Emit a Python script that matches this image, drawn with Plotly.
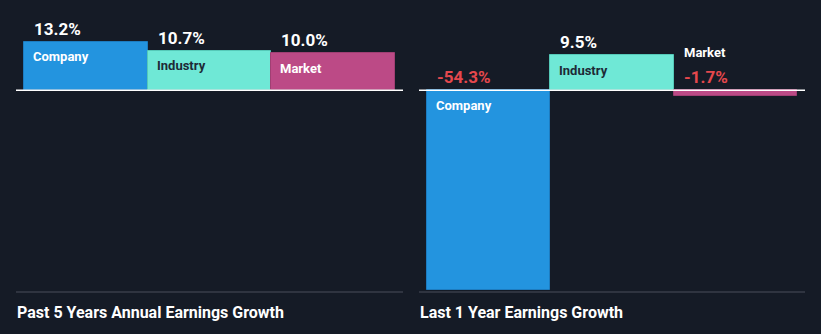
import plotly.graph_objects as go

# Earnings growth comparison data
categories = ["Company", "Industry", "Market"]
past_5y_growth = [13.2, 10.7, 10.0]
last_1y_growth = [-54.3, 9.5, -1.7]
panel_titles = ["Past 5 Years Annual Earnings Growth", "Last 1 Year Earnings Growth"]

W, H = 821, 334
BG = "#151b26"
bar_colors = ["#2394df", "#6fe8d6", "#bc4a86"]
edge_colors = ["#1d7cc0", "#55c9b8", "#a03f73"]
label_colors = ["#ffffff", "#1e2a36", "#ffffff"]
NEG_RED = "#e5484d"
FONT = "Roboto"

# panel pixel extents (left, right) of the axis line
panels = [(16, 403), (419, 805)]
pad = 0.065
y_range = [-54.8, 24.5]
plot_bottom_px = 292

fig = go.Figure()

for p, (vals, (x0, x1)) in enumerate(zip([past_5y_growth, last_1y_growth], panels)):
    xa = "x" if p == 0 else "x2"
    fig.add_trace(go.Bar(
        x=list(range(len(categories))), y=vals, width=1.0,
        marker=dict(color=bar_colors, line=dict(color=edge_colors, width=1)),
        xaxis=xa, yaxis="y", showlegend=False, hoverinfo="skip",
    ))
    for i, (cat, v) in enumerate(zip(categories, vals)):
        val_txt = f"{v:.1f}%"
        val_col = "#ffffff" if v >= 0 else NEG_RED
        top = max(v, 0)
        small_neg = v < 0 and abs(v) < 8
        # value label above the bar top (or above the zero line)
        fig.add_annotation(
            x=i - 0.5, y=top, xref=xa, yref="y", xanchor="left", yanchor="middle",
            xshift=8, yshift=13, text=f"<b>{val_txt}</b>", showarrow=False,
            font=dict(family=FONT, size=17, color=val_col),
        )
        # category label: inside the bar, or stacked above the value if the bar is tiny
        if small_neg:
            fig.add_annotation(
                x=i - 0.5, y=0, xref=xa, yref="y", xanchor="left", yanchor="middle",
                xshift=8, yshift=38, text=f"<b>{cat}</b>", showarrow=False,
                font=dict(family=FONT, size=13, color="#ffffff"),
            )
        else:
            fig.add_annotation(
                x=i - 0.5, y=top, xref=xa, yref="y", xanchor="left", yanchor="middle",
                xshift=7, yshift=-15, text=f"<b>{cat}</b>", showarrow=False,
                font=dict(family=FONT, size=13, color=label_colors[i]),
            )
    # zero line
    fig.add_shape(type="line", xref="paper", yref="y", x0=x0 / W, x1=x1 / W, y0=0, y1=0,
                  line=dict(color="#ffffff", width=1.5))
    # bottom separator
    fig.add_shape(type="line", xref="paper", yref="paper", x0=x0 / W, x1=x1 / W,
                  y0=(H - plot_bottom_px) / H, y1=(H - plot_bottom_px) / H,
                  line=dict(color="#4a4f5a", width=1))
    # panel title
    fig.add_annotation(
        x=x0 / W, y=(H - 312) / H, xref="paper", yref="paper", xanchor="left", yanchor="middle",
        xshift=-1, text=f"<b>{panel_titles[p]}</b>", showarrow=False,
        font=dict(family=FONT, size=16, color="#ffffff"),
    )

x_rng = [-0.5 - pad, 2.5 + pad]
fig.update_layout(
    width=W, height=H, margin=dict(l=0, r=0, t=0, b=0),
    paper_bgcolor=BG, plot_bgcolor=BG, bargap=0,
    xaxis=dict(domain=[panels[0][0] / W, panels[0][1] / W], range=x_rng, visible=False, fixedrange=True),
    xaxis2=dict(domain=[panels[1][0] / W, panels[1][1] / W], range=x_rng, visible=False, fixedrange=True),
    yaxis=dict(domain=[(H - plot_bottom_px) / H, 1], range=y_range, visible=False, fixedrange=True),
)

fig.write_html("out.html", config={"displayModeBar": False})
